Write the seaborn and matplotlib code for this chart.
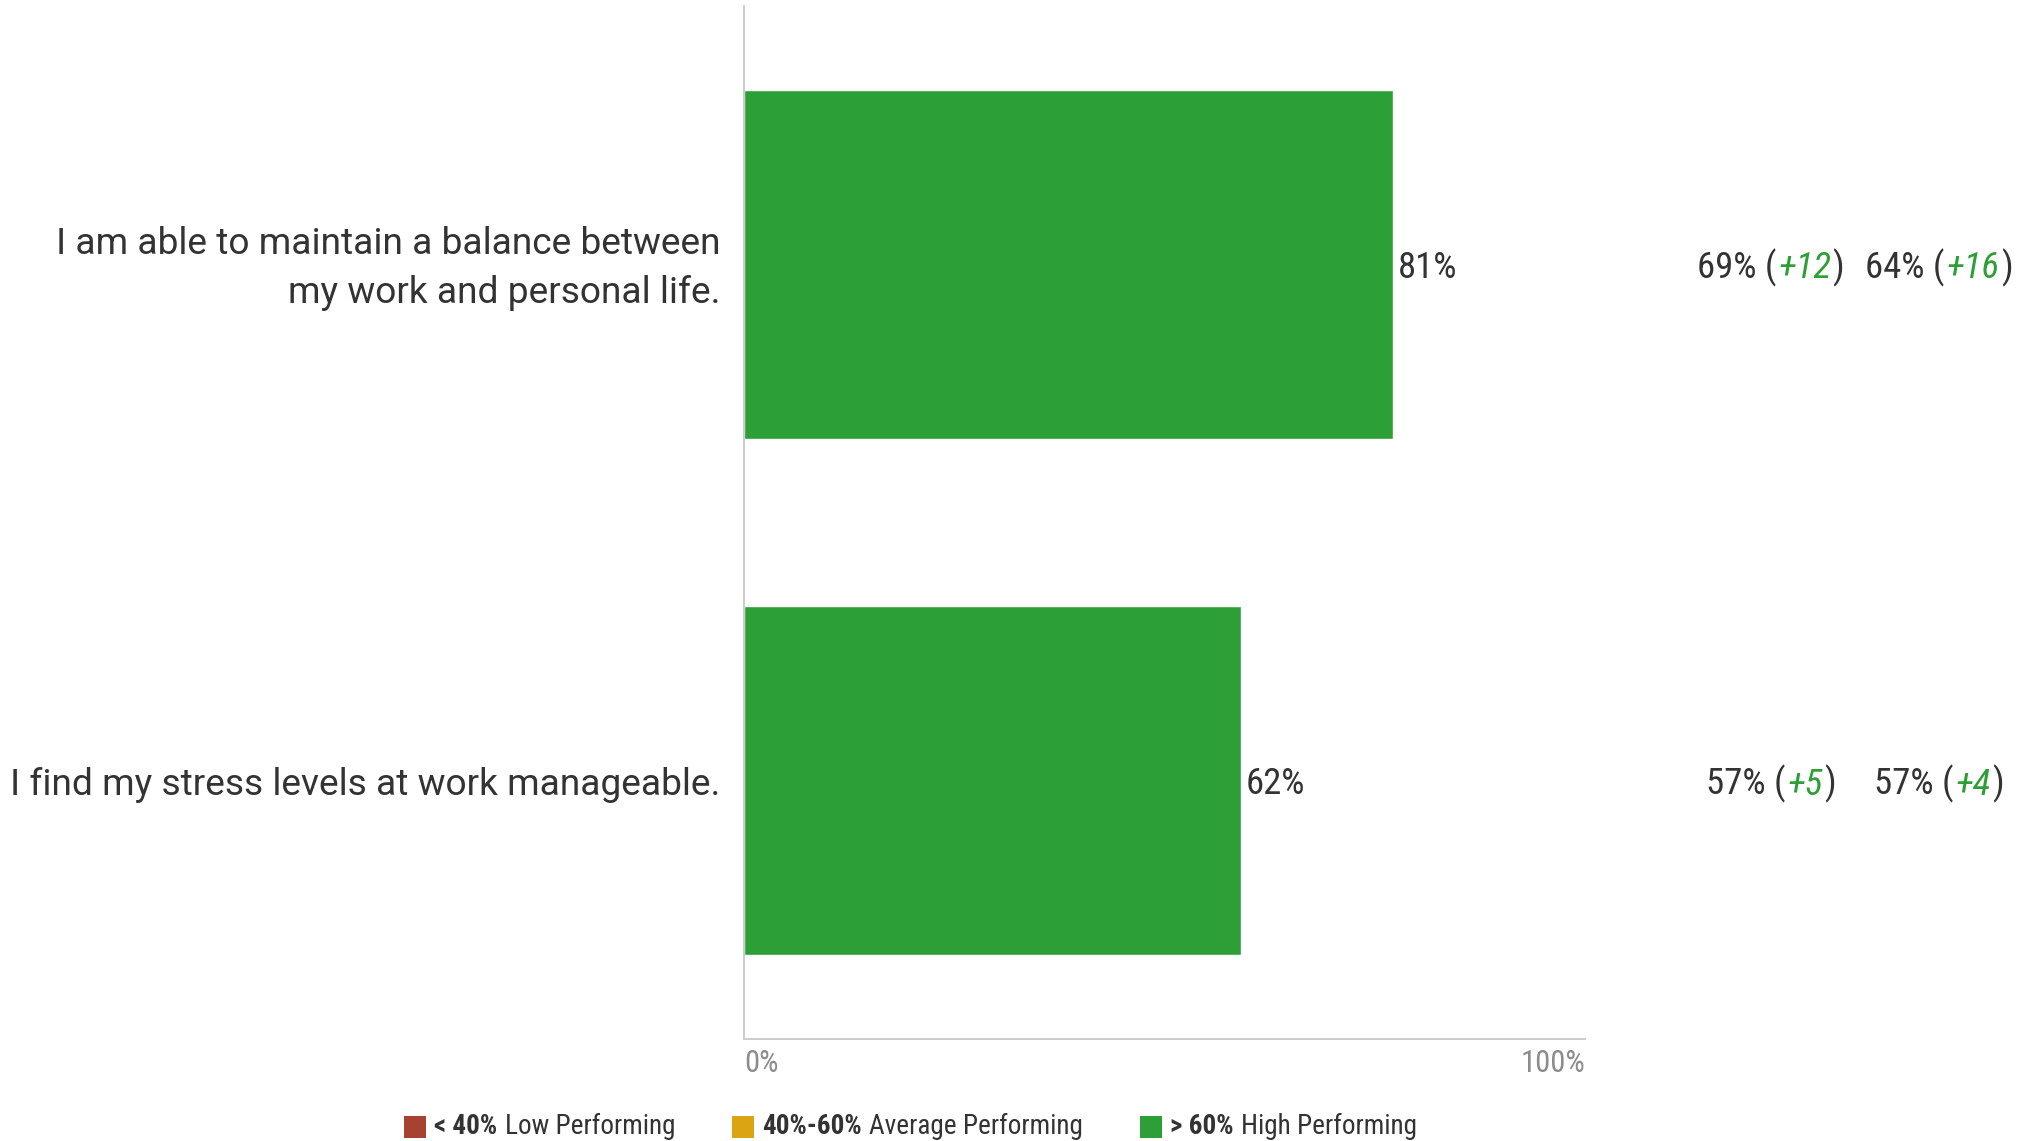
import matplotlib
matplotlib.use("Agg")
import matplotlib.pyplot as plt
from matplotlib.offsetbox import (AnchoredOffsetbox, DrawingArea, HPacker,
                                  TextArea)
from matplotlib.patches import Rectangle
from matplotlib.transforms import ScaledTranslation
import pandas as pd
import seaborn as sns

# --- data -------------------------------------------------------------------
questions = [
    "I am able to maintain a balance between\nmy work and personal life.",
    "I find my stress levels at work manageable.",
]
scores = [81, 62]
bench_one = [69, 57]
delta_one = [12, 5]
bench_two = [64, 57]
delta_two = [16, 4]

band_names = ["< 40%", "40%-60%", "> 60%"]
band_titles = ["Low Performing", "Average Performing", "High Performing"]
band_colors = ["#a64232", "#daa413", "#2c9f36"]

# --- style ------------------------------------------------------------------
sns.set_theme(style="white")
plt.rcParams["font.family"] = ["Roboto", "DejaVu Sans"]
TEXT = "#333333"
AXIS = "#cccccc"
TICK = "#8c8c8c"
NUM_FONT = ["Roboto Condensed", "Roboto", "DejaVu Sans"]
NUM_SIZE = 26.5


def band_of(v):
    if v < 40:
        return band_names[0]
    if v <= 60:
        return band_names[1]
    return band_names[2]


df = pd.DataFrame({"question": questions, "score": scores})
df["band"] = [band_of(v) for v in scores]

fig = plt.figure(figsize=(20.26, 11.41), dpi=100)
ax = fig.add_axes([0.3672, 0.0894, 0.4151, 0.9053])

sns.barplot(
    data=df, x="score", y="question", hue="band",
    hue_order=band_names, palette=dict(zip(band_names, band_colors)),
    orient="h", width=0.676, dodge=False, legend=False,
    saturation=1, ax=ax,
)

ax.set_xlim(0, 105)
ax.set_ylim(1.5, -0.5)
ax.set_xlabel("")
ax.set_ylabel("")

for side in ("top", "right"):
    ax.spines[side].set_visible(False)
for side in ("left", "bottom"):
    ax.spines[side].set_color(AXIS)
    ax.spines[side].set_linewidth(1.4)

ax.set_xticks([0, 100])
ax.set_xticklabels(["0%", "100%"])
ax.tick_params(axis="x", length=0, pad=7.5, labelsize=22, labelcolor=TICK)
for lab in ax.get_xticklabels():
    lab.set_family(NUM_FONT)
xlabels = ax.get_xticklabels()
xlabels[0].set_ha("left")
xlabels[1].set_transform(xlabels[1].get_transform()
                         + ScaledTranslation(0.08, 0, fig.dpi_scale_trans))

ax.tick_params(axis="y", length=0, pad=17, labelsize=26.7, labelcolor=TEXT)
for lab in ax.get_yticklabels():
    if "\n" in lab.get_text():
        lab.set_linespacing(1.48)
        lab.set_va("center")
        lab.set_transform(lab.get_transform()
                          + ScaledTranslation(0, -0.04, fig.dpi_scale_trans))

# value at the end of each bar
for i, v in enumerate(scores):
    ax.annotate(f"{v}%", xy=(v, i), xytext=(4, -2.5),
                textcoords="offset points", ha="left", va="center",
                fontsize=NUM_SIZE, color=TEXT, family=NUM_FONT)


# comparison columns: benchmark value and difference
def comparison(values, deltas, xfig):
    for i, (b, d) in enumerate(zip(values, deltas)):
        parts = [
            TextArea(f"{b}% (", textprops=dict(fontsize=NUM_SIZE, color=TEXT,
                                                family=NUM_FONT)),
            TextArea(f"+{d}", textprops=dict(fontsize=NUM_SIZE,
                                              color=band_colors[2],
                                              style="italic", family=NUM_FONT)),
            TextArea(")", textprops=dict(fontsize=NUM_SIZE, color=TEXT,
                                          family=NUM_FONT)),
        ]
        box = HPacker(children=parts, align="baseline", pad=0, sep=1)
        ycen = (ax.transData.transform((0, i))[1] - 3.5) / fig.bbox.height
        anchored = AnchoredOffsetbox(
            loc="center", child=box, frameon=False, pad=0, borderpad=0,
            bbox_to_anchor=(xfig, ycen), bbox_transform=fig.transFigure,
        )
        fig.add_artist(anchored)


fig.canvas.draw()
comparison(bench_one, delta_one, 0.874)
comparison(bench_two, delta_two, 0.957)

# performance band key
items = []
for name, title, color in zip(band_names, band_titles, band_colors):
    sw = DrawingArea(16, 16, 0, 0)
    sw.add_artist(Rectangle((0, 0), 16, 16, facecolor=color, edgecolor="none"))
    items.append(sw)
    items.append(TextArea(name, textprops=dict(fontsize=19.6, color=TEXT,
                                               weight="bold", family=NUM_FONT)))
    items.append(TextArea(title, textprops=dict(fontsize=19.6, color=TEXT,
                                                family=NUM_FONT)))
    items.append(DrawingArea(30, 1, 0, 0))
items = items[:-1]
key = HPacker(children=items, align="center", pad=0, sep=5.5)
fig.add_artist(AnchoredOffsetbox(
    loc="center", child=key, frameon=False, pad=0, borderpad=0,
    bbox_to_anchor=(0.4495, 0.0125), bbox_transform=fig.transFigure,
))

fig.savefig("out.png", dpi=100, facecolor="white")
